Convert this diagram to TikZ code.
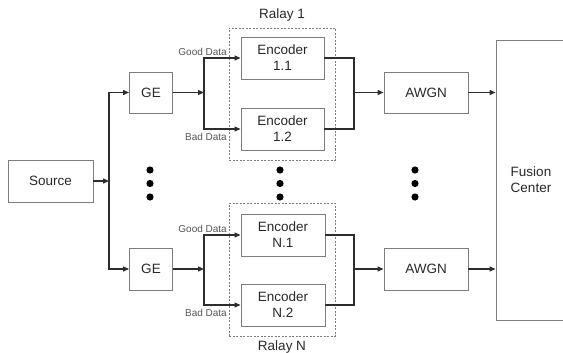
\documentclass[tikz,border=0pt]{standalone}
\usepackage{fontspec}
\setmainfont{Liberation Sans}
\usetikzlibrary{arrows.meta}
\definecolor{boxc}{RGB}{125,125,125}
\definecolor{linec}{RGB}{45,45,45}
\definecolor{txtc}{RGB}{40,40,40}
\tikzset{
  blk/.style={draw=boxc, line width=0.9pt, rectangle, align=center, inner sep=0pt,
    text=txtc, font=\fontsize{13.5}{16}\selectfont},
  relay/.style={draw=boxc, line width=0.8pt, dash pattern=on 2pt off 1.5pt, rectangle, inner sep=0pt},
  conn/.style={draw=linec, line width=1.2pt},
  arr/.style={conn, -{Triangle[length=6pt,width=5pt]}},
  lbl/.style={text=txtc, font=\fontsize{13.5}{16}\selectfont, inner sep=0pt},
  small/.style={text=txtc!80, font=\fontsize{10}{12}\selectfont, inner sep=0pt, anchor=east},
  dotc/.style={fill=black}
}
\begin{document}
\begin{tikzpicture}[x=1pt,y=-1pt]
\useasboundingbox (0,0) rectangle (563,353);
\clip (0,0) rectangle (563,353);
% relay boxes
\node[relay, minimum width=106pt, minimum height=132pt] (r1) at (282,94) {};
\node[relay, minimum width=106pt, minimum height=133pt] (rN) at (282,269.5) {};
\node[lbl] (r1l) at (282,15) {Ralay 1};
\node[lbl] (rNl) at (282,347) {Ralay N};
% blocks
\node[blk, minimum width=85pt, minimum height=42pt] (src) at (50.5,181) {Source};
\node[blk, minimum width=43pt, minimum height=41pt] (ge1) at (151,92.5) {GE};
\node[blk, minimum width=43pt, minimum height=42pt] (ge2) at (151,269) {GE};
\node[blk, minimum width=83pt, minimum height=42pt] (e11) at (282.5,58) {Encoder\\1.1};
\node[blk, minimum width=83pt, minimum height=42pt] (e12) at (282.5,129) {Encoder\\1.2};
\node[blk, minimum width=84pt, minimum height=42pt] (eN1) at (283,235) {Encoder\\N.1};
\node[blk, minimum width=84pt, minimum height=42pt] (eN2) at (283,305) {Encoder\\N.2};
\node[blk, minimum width=84pt, minimum height=41pt] (aw1) at (426,92.5) {AWGN};
\node[blk, minimum width=84pt, minimum height=42pt] (aw2) at (426,269) {AWGN};
\node[blk, minimum width=70pt, minimum height=280pt] (fc) at (531,180) {Fusion\\Center};
% junction coordinates
\coordinate (s1) at (109,181);
\coordinate (j1) at (204,92.5);
\coordinate (j2) at (204,269);
\coordinate (k1) at (354,92.5);
\coordinate (k2) at (354,269);
% source fan-out
\draw[arr] (src.east) -- (s1);
\draw[arr] (s1) |- (ge1.west);
\draw[arr] (s1) |- (ge2.west);
% GE splits
\draw[arr] (ge1.east) -- (j1);
\draw[arr] (j1) |- (e11.west);
\draw[arr] (j1) |- (e12.west);
\draw[arr] (ge2.east) -- (j2);
\draw[arr] (j2) |- (eN1.west);
\draw[arr] (j2) |- (eN2.west);
% labels
\node[small] (g1) at (227,52) {Good Data};
\node[small] (b1) at (227,137) {Bad Data};
\node[small] (g2) at (227,229) {Good Data};
\node[small] (b2) at (227,313) {Bad Data};
% encoder merge
\draw[conn] (e11.east) -| (k1);
\draw[conn] (e12.east) -| (k1);
\draw[arr] (k1) -- (aw1.west);
\draw[conn] (eN1.east) -| (k2);
\draw[conn] (eN2.east) -| (k2);
\draw[arr] (k2) -- (aw2.west);
% to fusion
\draw[arr] (aw1.east) -- (aw1.east -| fc.west);
\draw[arr] (aw2.east) -- (aw2.east -| fc.west);
% dots
\foreach \x in {150,280,415} {
  \foreach \y in {170,183.5,197} {
    \fill[dotc] (\x,\y) circle (3.6pt);
  }
}
\end{tikzpicture}
\end{document}
